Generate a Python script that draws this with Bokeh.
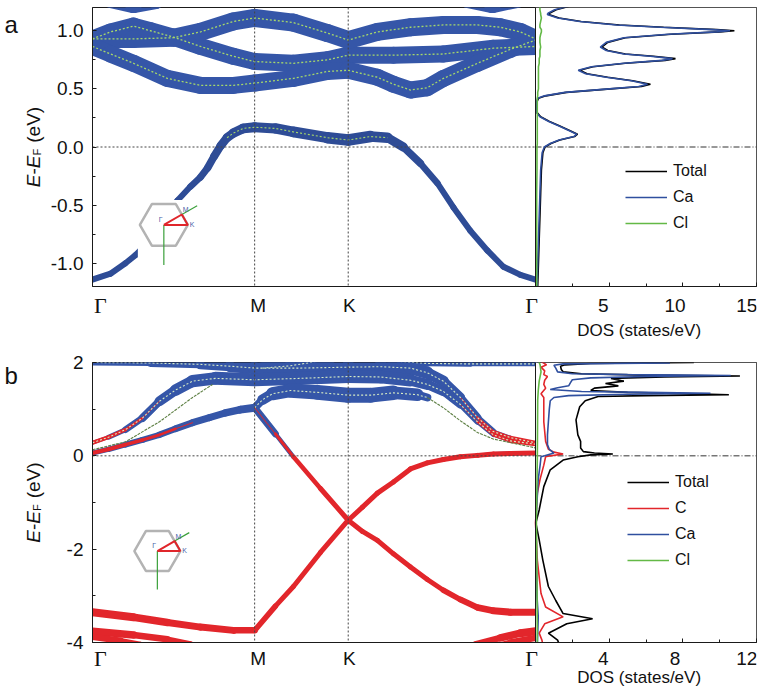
import numpy as np
from bokeh.plotting import figure
from bokeh.models import (Range1d, FixedTicker, Span, Label, Legend, LegendItem,
                          LinearAxis)
from bokeh.layouts import column, row
from bokeh.embed import file_html
from bokeh.resources import INLINE

# ---------------- data ----------------
K_POS = [0.0, 1.0, 1.577, 2.732]
K_LABELS = ["Γ", "M", "K", "Γ"]
A_YTICKS = [-1.0, -0.5, 0.0, 0.5, 1.0]
A_YMINOR = [-1.25, -0.75, -0.25, 0.25, 0.75, 1.25]
B_YTICKS = [-4, -2, 0, 2]
B_YMINOR = [-3, -1, 1]
A_DOS_TICKS, A_DOS_MINOR = [5, 10, 15], [2.5, 7.5, 12.5]
B_DOS_TICKS, B_DOS_MINOR = [4, 8, 12], [2, 6, 10]

# ---- panel a : band energies (eV) and Ca fat-band weights (px) ----
a_v_k = [0, 0.111, 0.203, 0.265, 0.358, 0.450, 0.524, 0.604, 0.666, 0.710, 0.750, 0.790, 0.830, 0.869,
         0.930, 1.0, 1.128, 1.239, 1.449, 1.577, 1.714, 1.819, 1.917, 2.022, 2.127, 2.226, 2.330, 2.435,
         2.534, 2.639, 2.732]
a_v_E = [-1.14, -1.09, -1.00, -0.93, -0.80, -0.62, -0.46, -0.34, -0.26, -0.18, -0.08, 0.01, 0.08, 0.12,
         0.16, 0.17, 0.16, 0.13, 0.08, 0.06, 0.09, 0.08, 0.0, -0.14, -0.31, -0.52, -0.72, -0.89,
         -1.03, -1.10, -1.14]
a_v_w = [6, 6, 6, 6, 6, 6, 6, 6, 7, 7, 8, 8, 9, 9, 10, 10, 10, 11, 11, 12, 11, 10, 8, 7, 6, 6, 6, 6,
         6, 6, 6]

a_b1_k = [0, 0.111, 0.253, 0.358, 0.499, 0.666, 0.869, 1.0, 1.239, 1.449, 1.577, 1.856, 2.164, 2.472, 2.732]
a_b1_E = [0.93, 0.99, 1.04, 1.0, 0.945, 0.865, 0.78, 0.735, 0.72, 0.75, 0.79, 0.79, 0.80, 0.85, 0.865]
a_b1_w = [17] * 15

a_b2_k = [0, 0.253, 0.499, 0.666, 0.869, 1.0, 1.239, 1.449, 1.577, 1.757, 1.961, 2.164, 2.374, 2.515, 2.639, 2.732]
a_b2_E = [0.93, 0.93, 0.94, 0.99, 1.08, 1.11, 1.07, 0.98, 0.92, 0.99, 1.03, 1.05, 1.05, 1.03, 0.99, 0.93]
a_b2_w = [18] * 16

a_b3_k = [0, 0.111, 0.253, 0.462, 0.666, 0.869, 1.0, 1.239, 1.449, 1.577, 1.757, 1.856, 1.961, 2.065,
          2.164, 2.374, 2.577, 2.732]
a_b3_E = [0.865, 0.80, 0.72, 0.59, 0.53, 0.53, 0.55, 0.59, 0.65, 0.66, 0.60, 0.54, 0.49, 0.51,
          0.59, 0.72, 0.84, 0.92]
a_b3_w = [17] * 18

a_t1_k = [0, 0.111, 0.253, 0.388, 0.512]
a_t1_E = [1.45, 1.27, 1.225, 1.26, 1.40]
a_t1_w = [17] * 5
a_t2_k = [2.145, 2.312, 2.466, 2.620, 2.732]
a_t2_E = [1.45, 1.27, 1.225, 1.27, 1.35]
a_t2_w = [17] * 5

# ---- panel a : DOS ----
a_dos_E = [1.21, 1.18, 1.15, 1.14, 1.11, 1.08, 1.05, 1.03, 1.01, 1.0, 0.99, 0.97, 0.94, 0.90, 0.86, 0.83,
           0.80, 0.78, 0.76, 0.745, 0.72, 0.69, 0.66, 0.63, 0.60, 0.57, 0.54, 0.52, 0.50, 0.47, 0.44, 0.42,
           0.38, 0.30, 0.26, 0.22, 0.18, 0.14, 0.11, 0.09, 0.06, 0.03, 0.0, -0.05, -0.2, -0.4, -0.6, -0.8,
           -1.0, -1.2]
a_dos_ca = [2.2, 1.3, 0.85, 0.8, 1.5, 3.0, 5.5, 8.5, 12.0, 13.2, 12.3, 9.0, 6.0, 4.8, 4.4, 4.8,
            6.0, 7.8, 9.3, 8.6, 6.0, 3.8, 2.9, 3.4, 4.8, 6.5, 7.6, 7.0, 5.0, 2.0, 0.6, 0.15,
            0.05, 0.05, 0.3, 0.9, 1.6, 2.3, 2.8, 2.6, 1.6, 1.0, 0.6, 0.45, 0.35, 0.3, 0.25, 0.2,
            0.15, 0.1]
a_dos_tot = [2.3, 1.4, 0.95, 0.9, 1.6, 3.1, 5.7, 8.7, 12.3, 13.5, 12.5, 9.2, 6.1, 4.9, 4.5, 4.9,
             6.1, 8.0, 9.5, 8.8, 6.1, 3.9, 3.0, 3.5, 4.9, 6.6, 7.8, 7.2, 5.1, 2.1, 0.7, 0.2,
             0.08, 0.08, 0.35, 0.95, 1.65, 2.35, 2.85, 2.65, 1.65, 1.05, 0.65, 0.5, 0.4, 0.35, 0.3, 0.25,
             0.2, 0.15]
a_dos_cl = [0.3, 0.3, 0.35, 0.35, 0.4, 0.35, 0.3, 0.3, 0.4, 0.4, 0.4, 0.35, 0.3, 0.3, 0.35, 0.3,
            0.3, 0.3, 0.25, 0.25, 0.25, 0.2, 0.2, 0.2, 0.2, 0.2, 0.2, 0.2, 0.2, 0.15, 0.15, 0.12,
            0.12, 0.12, 0.12, 0.12, 0.12, 0.12, 0.12, 0.12, 0.12, 0.12, 0.1, 0.1, 0.1, 0.08, 0.08, 0.08,
            0.08, 0.08]

# ---- panel b : bands (k, E, Ca weight px, C weight px) ----
b_l0_k = [0, 0.099, 0.203, 0.308, 0.413, 0.512, 0.617, 0.721, 0.820, 0.912, 1.0, 1.128, 1.239, 1.406,
          1.577, 1.665, 1.757, 1.856, 1.961, 2.065, 2.164, 2.269, 2.374, 2.472, 2.577, 2.732]
b_l0_E = [0.06, 0.14, 0.24, 0.34, 0.45, 0.58, 0.71, 0.82, 0.92, 0.99, 1.03, 0.47, -0.02, -0.70,
          -1.38, -1.62, -1.81, -2.10, -2.38, -2.65, -2.88, -3.08, -3.25, -3.32, -3.35, -3.35]
b_l0_ca = [5, 5, 6, 6, 6, 7, 7, 7, 7, 8, 8, 6, 3, 0, 0, 0, 0, 0, 0, 0, 0, 0, 0, 0, 0, 0]
b_l0_c = [4, 4, 4, 3, 3, 2, 0, 0, 0, 0, 0, 2, 4, 5, 5, 5, 5, 5, 5, 5, 5, 6, 6, 7, 7, 7]

b_l1_k = [0, 0.253, 0.462, 0.666, 0.869, 1.0, 1.128, 1.239, 1.406, 1.577, 1.665, 1.757, 1.856, 1.961,
          2.065, 2.164, 2.269, 2.374, 2.472, 2.577, 2.732]
b_l1_E = [-3.35, -3.46, -3.57, -3.67, -3.74, -3.74, -3.22, -2.80, -2.07, -1.38, -1.10, -0.80, -0.56, -0.28,
          -0.15, -0.08, -0.02, 0.01, 0.04, 0.05, 0.06]
b_l1_ca = [0, 0, 0, 0, 0, 0, 0, 0, 0, 0, 0, 0, 0, 2, 2, 2, 3, 3, 4, 4, 4]
b_l1_c = [8, 8, 7, 7, 7, 6, 5, 5, 5, 5, 5, 5, 5, 5, 5, 5, 5, 5, 5, 5, 5]

b_bot1_k = [0, 0.253, 0.462, 0.604, 0.697]
b_bot1_E = [-3.76, -3.84, -3.93, -4.03, -4.12]
b_bot1_c = [8, 7, 6, 5, 5]
b_bot2_k = [2.238, 2.361, 2.515, 2.639, 2.732]
b_bot2_E = [-4.15, -4.04, -3.90, -3.80, -3.76]
b_bot2_c = [5, 6, 7, 8, 8]
b_bot3_k = [0, 0.173, 0.296, 0.376]
b_bot3_E = [-3.88, -3.96, -4.04, -4.12]
b_bot3_c = [7, 6, 5, 5]
b_bot4_k = [2.454, 2.577, 2.732]
b_bot4_E = [-4.10, -4.00, -3.90]
b_bot4_c = [5, 6, 7]

b_t_k = [0, 0.358, 0.666, 0.851, 1.0, 1.282, 1.577, 1.776, 1.961, 2.065, 2.164, 2.269, 2.374, 2.472, 2.577, 2.732]
b_t_E = [2.0, 1.99, 1.96, 1.92, 1.88, 1.88, 1.90, 1.91, 1.88, 1.78, 1.60, 1.25, 0.82, 0.52, 0.39, 0.28]
b_t_ca = [5, 7, 9, 11, 13, 14, 14, 14, 13, 12, 10, 9, 7, 5, 3, 2]
b_t_c = [0, 0, 0, 0, 0, 0, 0, 0, 0, 0, 0, 0, 2, 3, 4, 4]

b_c1_k = [0, 0.099, 0.203, 0.308, 0.413, 0.512, 0.617, 0.758, 1.0, 1.282, 1.577, 1.776, 1.961, 2.065,
          2.164, 2.269, 2.374, 2.472, 2.577, 2.732]
b_c1_E = [0.28, 0.40, 0.56, 0.81, 1.17, 1.41, 1.60, 1.66, 1.63, 1.66, 1.70, 1.69, 1.62, 1.53,
          1.38, 1.10, 0.73, 0.45, 0.32, 0.25]
b_c1_ca = [3, 4, 6, 7, 9, 11, 12, 13, 13, 13, 13, 13, 12, 10, 9, 7, 5, 4, 3, 2]
b_c1_c = [4, 4, 3, 2, 0, 0, 0, 0, 0, 0, 0, 0, 0, 0, 0, 0, 2, 3, 4, 4]

b_f3_k = [1.0, 1.048, 1.110, 1.221, 1.387, 1.577, 1.714, 1.856, 2.004, 2.065]
b_f3_E = [1.03, 1.20, 1.33, 1.40, 1.36, 1.30, 1.30, 1.35, 1.31, 1.25]
b_f3_ca = [7, 9, 12, 14, 15, 15, 15, 14, 11, 5]

b_top2_k = [1.776, 1.899, 2.065, 2.330, 2.732]
b_top2_E = [2.10, 2.02, 1.98, 1.97, 1.97]
b_top2_ca = [7, 7, 6, 5, 4]
b_top3_k = [1.048, 1.221, 1.344, 1.467]
b_top3_E = [1.88, 1.93, 2.00, 2.10]
b_top3_ca = [12, 12, 12, 12]

b_thin1_k = [0, 0.203, 0.413, 0.617, 0.740]
b_thin1_E = [0.13, 0.30, 0.73, 1.25, 1.53]
b_thin2_k = [2.065, 2.164, 2.269, 2.374, 2.472, 2.732]
b_thin2_E = [1.25, 1.03, 0.75, 0.50, 0.36, 0.17]

# ---- panel b : DOS ----
b_tot_E = [2.05, 2.02, 2.0, 1.98, 1.95, 1.92, 1.85, 1.80, 1.76, 1.73, 1.71, 1.69, 1.66, 1.60, 1.55, 1.50,
           1.45, 1.40, 1.36, 1.33, 1.31, 1.29, 1.27, 1.18, 1.05, 0.77, 0.45, 0.31, 0.17, 0.09, 0.06, 0.04,
           0.02, -0.02, -0.09, -0.3, -0.66, -1.16, -1.44, -1.8, -2.24, -2.8, -3.1, -3.38, -3.49, -3.6,
           -3.8, -3.95, -4.05]
b_tot = [1.5, 5.0, 8.6, 3.0, 1.6, 1.36, 1.4, 1.5, 2.5, 6.0, 11.1, 7.0, 4.1, 4.8, 3.8, 4.5,
         3.2, 3.0, 5.0, 8.5, 10.5, 6.0, 3.4, 2.7, 2.4, 2.2, 2.3, 2.45, 2.45, 2.6, 3.2, 4.2,
         3.0, 2.3, 1.5, 0.8, 0.45, 0.2, 0.02, 0.2, 0.4, 0.7, 1.1, 1.5, 3.1, 1.7,
         0.7, 1.2, 1.3]
b_ca_E = [2.05, 2.02, 1.99, 1.97, 1.94, 1.88, 1.80, 1.76, 1.74, 1.72, 1.70, 1.67, 1.63, 1.57, 1.50, 1.46,
          1.42, 1.38, 1.36, 1.34, 1.32, 1.29, 1.25, 1.18, 1.0, 0.73, 0.45, 0.24, 0.14, 0.06, 0.0, -0.02,
          -0.2, -0.5, -1.0, -1.44, -2.0, -3.0, -3.45, -4.05]
b_ca = [1.5, 4.0, 7.3, 1.5, 1.0, 1.1, 1.2, 2.0, 5.0, 10.6, 6.0, 3.0, 2.0, 1.9, 1.8, 1.2,
        0.8, 2.5, 6.0, 9.5, 5.0, 1.8, 1.0, 0.8, 0.75, 0.7, 0.65, 0.65, 0.75, 1.0, 0.5, 0.3,
        0.25, 0.15, 0.08, 0.02, 0.05, 0.08, 0.15, 0.1]
b_c_E = [2.05, 2.0, 1.95, 1.90, 1.82, 1.74, 1.70, 1.62, 1.53, 1.45, 1.38, 1.33, 1.25, 1.0, 0.73, 0.31,
         0.14, 0.08, 0.04, 0.0, -0.02, -0.2, -0.5, -0.8, -1.44, -2.24, -2.95, -3.24, -3.45, -3.6, -3.8,
         -3.95, -4.05]
b_c = [0.2, 0.4, 0.6, 0.3, 0.5, 0.45, 0.65, 0.5, 0.45, 0.55, 0.4, 0.3, 0.45, 0.45, 0.45, 0.55,
       0.7, 1.0, 1.5, 0.8, 0.55, 0.45, 0.25, 0.1, 0.0, 0.1, 0.3, 0.55, 1.5, 0.5, 0.2,
       0.35, 0.4]
b_cl_E = [2.05, 1.95, 1.8, 1.6, 1.4, 1.2, 0.0, -1.44, -2.5, -4.05]
b_cl = [0.15, 0.25, 0.3, 0.2, 0.15, 0.12, 0.1, 0.05, 0.08, 0.1]

# ---------------- style / layout ----------------
FONT = "Liberation Sans"
SERIF = "Liberation Serif"
INK = "#1a1a1a"
TXT = "#111111"
BLUE = "#3556a8"
VBLUE = "#2e4c96"
RED = "#e2262b"
GREEN = "#63b946"
DOS_BLUE = "#2f4f9f"
DOT_GREEN = "#a6d96a"

LEFT_W = 84          # strip with y title, tick labels and panel letter
AX_L = 8             # left border of panel (tick marks only)
BAND_W, DOS_W = 443, 221
RIGHT = 10
RIGHT_W = AX_L + BAND_W + DOS_W + RIGHT
K_END = K_POS[-1]
X_END = K_END * (BAND_W + DOS_W) / BAND_W
BOT = 2


def style_axis(ax):
    ax.axis_line_color = INK
    ax.major_tick_in = 4
    ax.major_tick_out = 0
    ax.minor_tick_in = 3
    ax.minor_tick_out = 0
    ax.major_tick_line_color = INK
    ax.minor_tick_line_color = INK
    ax.major_label_text_font_size = "0px"
    ax.major_label_standoff = 0


def blank_fig(w, h, xr, yr, extra=None):
    f = figure(width=w, height=h, x_range=xr, y_range=yr, x_axis_location=None,
               y_axis_location=None, min_border_left=0, min_border_right=0,
               min_border_top=0, min_border_bottom=0, output_backend="svg",
               toolbar_location=None, title=None)
    if extra:
        f.extra_x_ranges = extra
    f.grid.visible = False
    f.outline_line_color = None
    return f


def make_panel(y0, y1, dos_max, fh, top, yt, ymt, xt, xmt):
    p = figure(frame_width=BAND_W + DOS_W, frame_height=fh,
               min_border_left=AX_L, min_border_right=RIGHT,
               min_border_top=top, min_border_bottom=BOT,
               x_range=Range1d(0, X_END), y_range=Range1d(y0, y1),
               x_axis_location=None, output_backend="svg", toolbar_location=None,
               title=None)
    p.extra_x_ranges = {"dos": Range1d(-dos_max * BAND_W / DOS_W, dos_max)}
    p.grid.visible = False
    p.outline_line_color = INK
    ya = p.yaxis[0]
    ya.ticker = FixedTicker(ticks=yt, minor_ticks=ymt)
    ya.major_label_overrides = {t: "" for t in yt}
    style_axis(ya)
    xa = LinearAxis(x_range_name="dos", ticker=FixedTicker(ticks=xt, minor_ticks=xmt))
    xa.major_label_overrides = {t: "" for t in xt}
    style_axis(xa)
    p.add_layout(xa, "below")
    return p


def fat(p, k, E, w, color):
    k = np.asarray(k, float)
    E = np.asarray(E, float)
    w = np.asarray(w, float)
    ww = 0.5 * (w[:-1] + w[1:])
    m = ww > 0.5
    if m.any():
        p.segment(x0=k[:-1][m], y0=E[:-1][m], x1=k[1:][m], y1=E[1:][m],
                  line_width=ww[m], line_color=color, line_cap="round")


def center_line(p, k, E, color, width=1.3, dash="2 2"):
    p.line(k, E, line_color=color, line_width=width, line_dash=dash)


def decorations(p):
    for kp in K_POS[1:3]:
        p.add_layout(Span(location=kp, dimension="height", line_color="#444444",
                          line_width=1, line_dash="2 2"))
    p.add_layout(Span(location=K_END, dimension="height", line_color=INK, line_width=1))
    p.line([K_POS[0], K_END], [0, 0], line_color="#444444", line_width=1, line_dash="2 2")


def dos_mask(p, y0, y1, dos_max):
    p.quad(left=[0], right=[dos_max], bottom=[y0], top=[y1], x_range_name="dos",
           fill_color="white", line_color=None)
    p.line([0, dos_max], [0, 0], x_range_name="dos", line_color="#333333",
           line_width=1, line_dash="6 2 1 2")


def inset(p, kc, Ec, r, y0, y1, fh, white_box):
    dx = X_END / (BAND_W + DOS_W)
    dy = (y1 - y0) / fh
    if white_box:
        p.quad(left=[kc - 26 * dx], right=[kc + 37 * dx], bottom=[Ec - 43 * dy],
               top=[Ec + 25 * dy], fill_color="white", line_color=None)
    p.scatter([kc], [Ec], marker="hex", size=2 * r, fill_color=None,
              line_color="#b3b3b3", line_width=2.5)
    mk, mE = kc + 0.75 * r * dx, Ec + 0.433 * r * dy
    kk = kc + r * dx
    p.line([kc, kc], [Ec, Ec - 1.67 * r * dy], line_color="#3aa03a", line_width=1.2)
    p.line([mk, kc + 1.85 * 0.75 * r * dx], [mE, Ec + 1.85 * 0.433 * r * dy],
           line_color="#3aa03a", line_width=1.2)
    p.line([kc, kk, mk, kc], [Ec, Ec, mE, Ec], line_color="#e0262b", line_width=2)
    for t, x, y, xo, yo in [("Γ", kc, Ec, -5, 2), ("M", mk, mE, 1, 1), ("K", kk, Ec, 2, -3)]:
        p.add_layout(Label(x=x, y=y, x_offset=xo, y_offset=yo, text=t, text_font=FONT,
                           text_font_size="7px", text_color="#4a5fa8"))


def legend(p, items, vx, vy):
    leg = Legend(items=[LegendItem(label=l, renderers=[r]) for l, r in items],
                 location=(vx, vy), label_text_font=FONT, label_text_font_size="16px",
                 label_text_color=TXT, glyph_width=42, glyph_height=16,
                 label_standoff=6, spacing=8, padding=0, margin=0,
                 border_line_alpha=0, background_fill_alpha=0)
    p.add_layout(leg)


def left_strip(h, frame_top, fh, y0, y1, ticks, fmt, letter, letter_dy):
    dpp = (y1 - y0) / fh
    yr = Range1d(y1 - (h - frame_top) * dpp, y1 + frame_top * dpp)
    f = blank_fig(LEFT_W, h, Range1d(0, LEFT_W), yr)
    for t in ticks:
        f.add_layout(Label(x=LEFT_W - 1, y=t, text=fmt.format(t), text_align="right",
                           text_baseline="middle", text_font=FONT, text_font_size="19px",
                           text_color=TXT))
    fs = 19
    pieces = [("E", "italic", fs, 0, 0.667 * fs), ("-", "normal", fs, 0, 0.333 * fs),
              ("E", "italic", fs, 0, 0.667 * fs), ("F", "normal", 11, 3, 0.611 * 11 + 6),
              ("(eV)", "normal", fs, 0, 1.889 * fs)]
    total = sum(pc[4] for pc in pieces)
    pos = -total / 2
    yc = 0.5 * (y0 + y1)
    for t, st, sz, sub, w in pieces:
        f.add_layout(Label(x=33 + sub, y=yc, y_offset=pos, text=t, angle=90, angle_units="deg",
                           text_align="left", text_baseline="alphabetic", text_font=FONT,
                           text_font_style=st, text_font_size=f"{sz}px", text_color=TXT))
        pos += w
    f.add_layout(Label(x=4, y=y1, y_offset=-letter_dy, text=letter, text_align="left",
                       text_baseline="alphabetic", text_font=FONT, text_font_size="24px",
                       text_color=TXT))
    return f


def bottom_strip(h, dos_max, xt, tick_dy, lab_dy):
    dxpp = X_END / (BAND_W + DOS_W)
    ddpp = dos_max / DOS_W
    xr = Range1d(-AX_L * dxpp, X_END + RIGHT * dxpp)
    extra = {"dos": Range1d(-(AX_L + BAND_W) * ddpp, dos_max + RIGHT * ddpp)}
    f = blank_fig(RIGHT_W, h, xr, Range1d(0, h), extra)
    for kp, t in zip(K_POS, K_LABELS):
        serif = (t == "Γ")
        f.add_layout(Label(x=kp, y=h - tick_dy, text=t, text_align="center",
                           text_baseline="middle", text_font=SERIF if serif else FONT,
                           text_font_size="22px" if serif else "19px", text_color=TXT))
    for t in xt:
        f.add_layout(Label(x=t, y=h - tick_dy, x_range_name="dos", text=str(t),
                           text_align="center", text_baseline="middle", text_font=FONT,
                           text_font_size="19px", text_color=TXT))
    f.add_layout(Label(x=dos_max / 2, y=h - lab_dy, x_range_name="dos",
                       text="DOS (states/eV)", text_align="center", text_baseline="middle",
                       text_font=FONT, text_font_size="17px", text_color=TXT))
    return f


# ---------------- panel a ----------------
YA0, YA1, DA = -1.2, 1.2, 15
FHA, TOPA = 279, 7
pa = make_panel(YA0, YA1, DA, FHA, TOPA, A_YTICKS, A_YMINOR, A_DOS_TICKS, A_DOS_MINOR)

A_FAT = [(a_t1_k, a_t1_E, a_t1_w), (a_t2_k, a_t2_E, a_t2_w), (a_b1_k, a_b1_E, a_b1_w),
         (a_b2_k, a_b2_E, a_b2_w), (a_b3_k, a_b3_E, a_b3_w)]
for k, E, w in A_FAT:
    fat(pa, k, E, w, BLUE)
fat(pa, a_v_k, a_v_E, a_v_w, VBLUE)
for k, E, w in A_FAT:
    center_line(pa, k, E, DOT_GREEN)
mv = np.asarray(a_v_w) >= 9
center_line(pa, np.asarray(a_v_k)[mv], np.asarray(a_v_E)[mv], DOT_GREEN, width=1.1)
inset(pa, 0.44, -0.67, 24, YA0, YA1, FHA, True)
decorations(pa)
dos_mask(pa, YA0, YA1, DA)
rt = pa.line(a_dos_tot, a_dos_E, x_range_name="dos", line_color="black", line_width=1.6)
rca = pa.line(a_dos_ca, a_dos_E, x_range_name="dos", line_color=DOS_BLUE, line_width=1.6)
rcl = pa.line(a_dos_cl, a_dos_E, x_range_name="dos", line_color=GREEN, line_width=1.6)
legend(pa, [("Total", rt), ("Ca", rca), ("Cl", rcl)], 533, 54)

XLA_H = 59
ba = bottom_strip(XLA_H, DA, A_DOS_TICKS, 17, 42)
la = left_strip(TOPA + FHA + BOT + XLA_H, TOPA, FHA, YA0, YA1, A_YTICKS, "{:.1f}", "a", 17)

# ---------------- panel b ----------------
YB0, YB1, DB = -4.0, 2.0, 12
FHB, TOPB = 280, 15
pb = make_panel(YB0, YB1, DB, FHB, TOPB, B_YTICKS, B_YMINOR, B_DOS_TICKS, B_DOS_MINOR)

B_BANDS = [(b_top3_k, b_top3_E, b_top3_ca, [0] * 4), (b_top2_k, b_top2_E, b_top2_ca, [0] * 5),
           (b_t_k, b_t_E, b_t_ca, b_t_c), (b_c1_k, b_c1_E, b_c1_ca, b_c1_c),
           (b_f3_k, b_f3_E, b_f3_ca, [0] * 10), (b_l0_k, b_l0_E, b_l0_ca, b_l0_c),
           (b_l1_k, b_l1_E, b_l1_ca, b_l1_c),
           (b_bot1_k, b_bot1_E, [0] * 5, b_bot1_c), (b_bot2_k, b_bot2_E, [0] * 5, b_bot2_c),
           (b_bot3_k, b_bot3_E, [0] * 4, b_bot3_c), (b_bot4_k, b_bot4_E, [0] * 3, b_bot4_c)]
for k, E, ca, c in B_BANDS:
    fat(pb, k, E, ca, BLUE)
for k, E, ca, c in B_BANDS:
    fat(pb, k, E, c, RED)
for k, E, ca, c in B_BANDS[:5]:
    center_line(pb, k, E, "#d6ebc4", width=1.1)
center_line(pb, b_thin1_k, b_thin1_E, "#5d7f43", width=1.1, dash="3 1")
center_line(pb, b_thin2_k, b_thin2_E, "#5d7f43", width=1.1, dash="3 1")
inset(pb, 0.40, -2.04, 23, YB0, YB1, FHB, False)
decorations(pb)
dos_mask(pb, YB0, YB1, DB)
rbt = pb.line(b_tot, b_tot_E, x_range_name="dos", line_color="black", line_width=1.6)
rbc = pb.line(b_c, b_c_E, x_range_name="dos", line_color=RED, line_width=1.6)
rbca = pb.line(b_ca, b_ca_E, x_range_name="dos", line_color=DOS_BLUE, line_width=1.6)
rbcl = pb.line(b_cl, b_cl_E, x_range_name="dos", line_color=GREEN, line_width=1.6)
legend(pb, [("Total", rbt), ("C", rbc), ("Ca", rbca), ("Cl", rbcl)], 535, 73)

XLB_H = 44
bb = bottom_strip(XLB_H, DB, B_DOS_TICKS, 14, 33)
lb = left_strip(TOPB + FHB + BOT + XLB_H, TOPB, FHB, YB0, YB1, B_YTICKS, "{:d}", "b", 13)

layout = row(column(la, lb), column(pa, ba, pb, bb))
open("out.html", "w").write(file_html(layout, INLINE))
